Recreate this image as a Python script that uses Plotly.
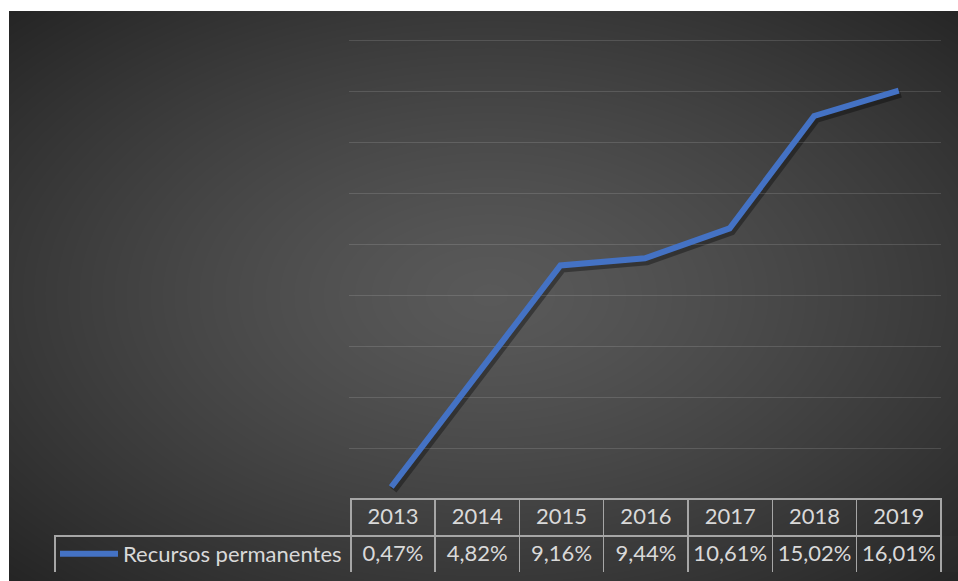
import numpy as np
import plotly.graph_objects as go

# ---- data ----
years = ["2013", "2014", "2015", "2016", "2017", "2018", "2019"]
values = [0.47, 4.82, 9.16, 9.44, 10.61, 15.02, 16.01]
series_name = "Recursos permanentes"
value_labels = [f"{v:.2f}%".replace(".", ",") for v in values]

W, H = 958, 581
FONT = "Lato"
TXT = "#d9d9d9"
BLUE = "#4472C4"
BORDER = "#a6a6a6"
FS = 22

# ---- radial background gradient (style only) ----
gx = np.linspace(9, 958, 120)
gy = np.linspace(11, 581, 72)
X, Y = np.meshgrid(gx, gy)
cx, cy = 490, 295
u = (X - cx) / ((958 - 9) / 2)
v = (Y - cy) / ((581 - 11) / 2)
r = np.clip(np.sqrt(u ** 2 + v ** 2) / np.sqrt(2), 0, 1)
zbg = 89 - 52 * r ** 1.3

fig = go.Figure()
fig.add_trace(go.Heatmap(
    x=gx, y=gy, z=zbg, zmin=37, zmax=89, zsmooth="best",
    colorscale=[[0, "rgb(37,37,37)"], [1, "rgb(89,89,89)"]],
    showscale=False, hoverinfo="skip", xaxis="x", yaxis="y",
))

# shadow of the line (same data, axes shifted a few pixels)
fig.add_trace(go.Scatter(
    x=years, y=values, mode="lines", showlegend=False, hoverinfo="skip",
    line=dict(color="rgba(0,0,0,0.35)", width=8), xaxis="x2", yaxis="y2",
))

fig.add_trace(go.Scatter(
    x=years, y=values, mode="lines", name=series_name,
    line=dict(color=BLUE, width=6), xaxis="x3", yaxis="y3",
))

# data table under the plot
fig.add_trace(go.Table(
    domain=dict(x=[55 / W, 941 / W], y=[8 / H, (H - 499) / H]),
    columnwidth=[295.7] + [84.3] * len(years),
    header=dict(
        values=[""] + years, height=37,
        fill=dict(color="rgba(0,0,0,0)"),
        line=dict(color=["rgba(0,0,0,0)"] + [BORDER] * len(years), width=1.5),
        font=dict(family=FONT, size=FS, color=TXT), align="center",
    ),
    cells=dict(
        values=[[""]] + [[lbl] for lbl in value_labels], height=37,
        fill=dict(color="rgba(0,0,0,0)"),
        line=dict(color=BORDER, width=1.5),
        font=dict(family=FONT, size=FS, color=TXT), align="center",
    ),
))

# plot area: 0 at y=499px, 18 at y=40px (25.5 px per unit)
ytop = 18.12
ppu = (499 - 40) / 18
y0, y1 = (H - 499) / H, (H - (499 - ytop * ppu)) / H
x0, x1 = 349 / W, 941 / W
sx, sy = 2, 3

fig.update_layout(
    width=W, height=H,
    margin=dict(l=0, r=0, t=0, b=0),
    paper_bgcolor="white", plot_bgcolor="rgba(0,0,0,0)",
    font=dict(family=FONT, color=TXT),
    xaxis=dict(domain=[9 / W, 1], range=[9, 958], visible=False, fixedrange=True),
    yaxis=dict(domain=[0, (H - 11) / H], range=[581, 11], visible=False, fixedrange=True),
    xaxis2=dict(domain=[x0 + sx / W, x1 + sx / W], range=[-0.5, 6.5], type="category",
                visible=False),
    yaxis2=dict(domain=[y0 - sy / H, y1 - sy / H], range=[0, ytop], visible=False),
    xaxis3=dict(domain=[x0, x1], range=[-0.5, 6.5], type="category",
                showgrid=False, showticklabels=False, zeroline=False, showline=False,
                ticks=""),
    yaxis3=dict(domain=[y0, y1], range=[0, ytop], dtick=2, showgrid=True,
                gridcolor="rgba(255,255,255,0.13)", gridwidth=1.2,
                showticklabels=False, zeroline=False, showline=False, ticks=""),
    showlegend=True,
    legend=dict(x=55 / W, y=(H - 554) / H, xanchor="left", yanchor="middle",
                bgcolor="rgba(0,0,0,0)", itemwidth=58,
                font=dict(family=FONT, size=FS, color=TXT)),
)

fig.write_html("out.html")
